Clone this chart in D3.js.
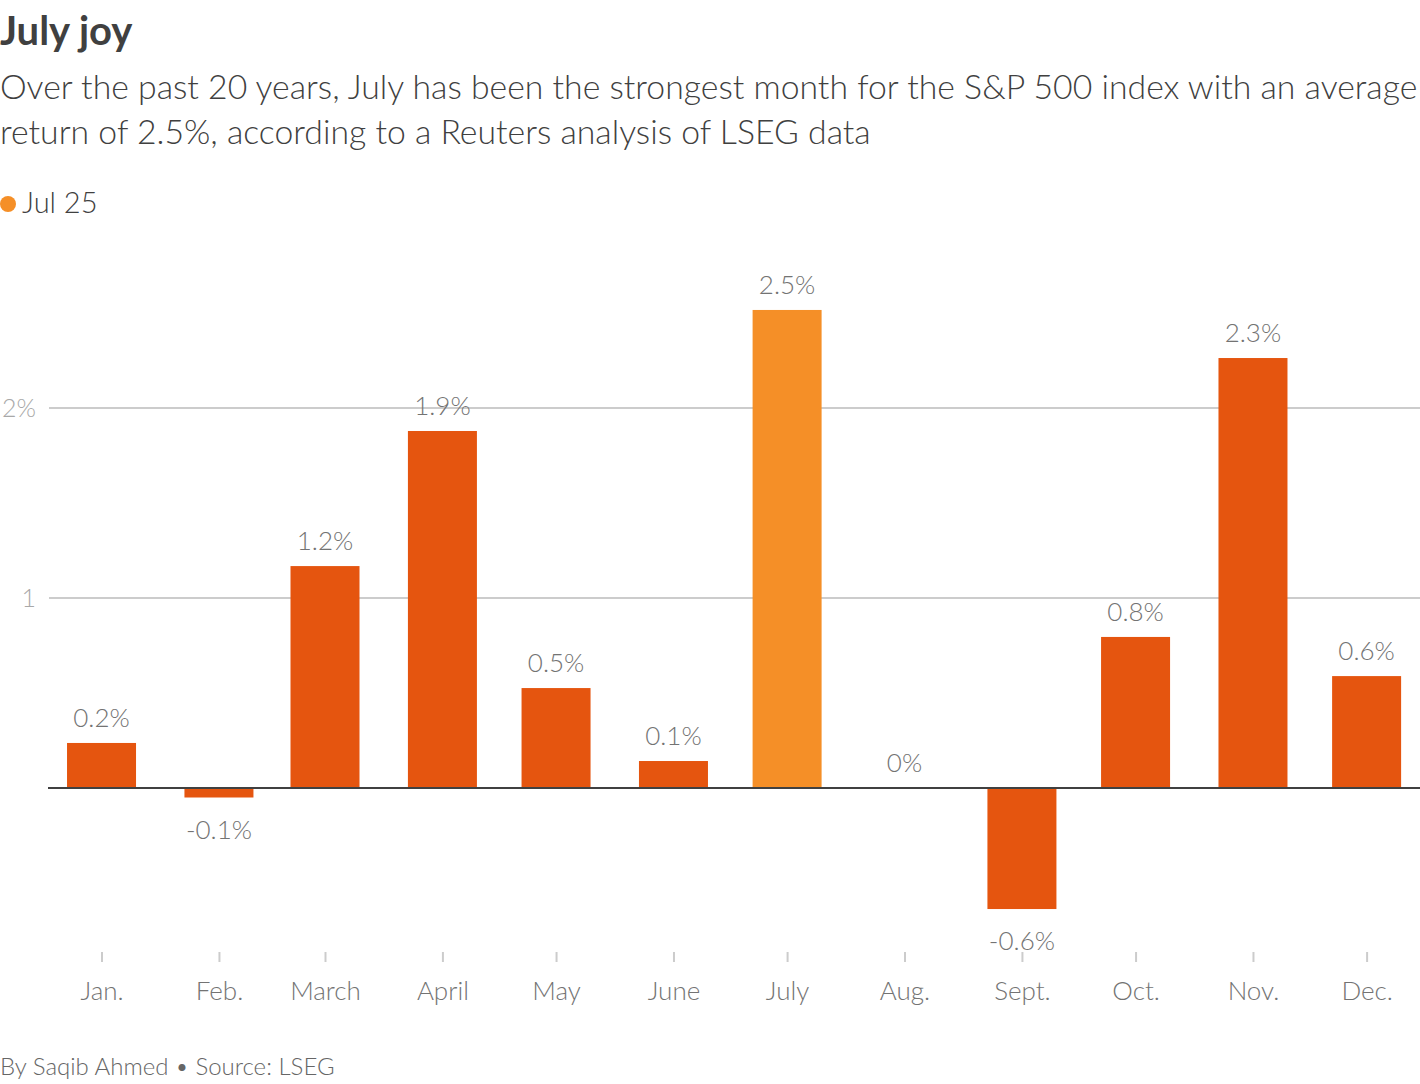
<!DOCTYPE html>
<html>
<head>
<meta charset="utf-8">
<script src="https://cdn.jsdelivr.net/npm/d3@7"></script>
<style>
  body { margin: 0; background: #fff; }
  svg { display: block; font-family: Lato, "Noto Sans", sans-serif; }
</style>
</head>
<body>
<div id="chart"></div>
<script>
var width = 1420,
    height = 1084;

// data
var months = ['Jan.', 'Feb.', 'March', 'April', 'May', 'June', 'July', 'Aug.', 'Sept.', 'Oct.', 'Nov.', 'Dec.'];
var monthDates = ['2023-01-15', '2023-02-15', '2023-03-15', '2023-04-15', '2023-05-15', '2023-06-15',
                  '2023-07-15', '2023-08-15', '2023-09-15', '2023-10-15', '2023-11-15', '2023-12-15'];
var avgReturn = [0.237, -0.05, 1.168, 1.879, 0.526, 0.142, 2.516, 0.0, -0.637, 0.795, 2.263, 0.589];
var yTicks = [1, 2];
var highlight = 'July';

var orange = '#e5550f',
    lightOrange = '#f58f27';

var svg = d3.select('#chart')
    .append('svg')
    .attr('width', width)
    .attr('height', height);

// Title
svg.append('text')
    .attr('x', 0)
    .attr('y', 45)
    .style('font-size', '40px')
    .style('font-weight', 'bold')
    .style('fill', '#404040')
    .text('July joy');

// Subtitle
var subLines = ['Over the past 20 years, July has been the strongest month for the S&P 500 index with an average',
                'return of 2.5%, according to a Reuters analysis of LSEG data'];
var sub = svg.append('g')
    .selectAll('text')
    .data(subLines)
    .enter()
    .append('text')
    .attr('x', 0)
    .attr('y', (d, i) => 99 + i * 45)
    .style('font-size', '30px')
    .style('font-weight', 300)
    .style('fill', '#404040')
    .text(d => d);

// fit the first line to the width like the original
var firstLen = sub.node().getComputedTextLength();
var subSize = 30 * 1418 / firstLen;
sub.style('font-size', subSize + 'px');

// Legend
svg.append('circle')
    .attr('cx', 8)
    .attr('cy', 204)
    .attr('r', 8)
    .style('fill', lightOrange);
svg.append('text')
    .attr('x', 22)
    .attr('y', 213)
    .style('font-size', '29px')
    .style('font-weight', 300)
    .style('fill', '#404040')
    .text('Jul 25');

// Scales
var parse = d3.timeParse('%Y-%m-%d');
var dates = monthDates.map(parse);
var xScale = d3.scaleTime()
    .domain([parse('2023-01-01'), parse('2024-01-01')])
    .range([48.5, 1431]);
var yScale = d3.scaleLinear()
    .domain([0, 2])
    .range([788, 408]);
var barWidth = 69;
var fmt = d3.format('.1~f');

// Gridlines
var grid = svg.append('g')
    .selectAll('g')
    .data(yTicks)
    .enter()
    .append('g');
grid.append('line')
    .attr('x1', 49)
    .attr('x2', width)
    .attr('y1', d => yScale(d))
    .attr('y2', d => yScale(d))
    .style('stroke', '#cccccc')
    .style('stroke-width', 2);
grid.append('text')
    .attr('x', 36)
    .attr('y', d => yScale(d))
    .attr('dy', '0.35em')
    .attr('text-anchor', 'end')
    .style('font-size', '25px')
    .style('font-weight', 300)
    .style('fill', '#a8a8a8')
    .text(d => d === 2 ? d + '%' : d);

// Bars
svg.append('g')
    .selectAll('rect')
    .data(avgReturn)
    .enter()
    .append('rect')
    .attr('x', (d, i) => xScale(dates[i]) - barWidth / 2)
    .attr('y', d => yScale(Math.max(0, d)))
    .attr('width', barWidth)
    .attr('height', d => Math.abs(yScale(d) - yScale(0)))
    .style('fill', (d, i) => months[i] === highlight ? lightOrange : orange);

// Value labels
svg.append('g')
    .selectAll('text')
    .data(avgReturn)
    .enter()
    .append('text')
    .attr('x', (d, i) => xScale(dates[i]))
    .attr('y', d => d < 0 ? yScale(d) + 41 : yScale(d) - 16)
    .attr('text-anchor', 'middle')
    .style('font-size', '26px')
    .style('font-weight', 300)
    .style('fill', '#737373')
    .text(d => fmt(d).replace('\u2212', '-') + '%');

// Zero line
svg.append('line')
    .attr('x1', 48)
    .attr('x2', width)
    .attr('y1', yScale(0))
    .attr('y2', yScale(0))
    .style('stroke', '#404040')
    .style('stroke-width', 2);

// X axis
var xAxis = d3.axisBottom(xScale)
    .tickValues(dates)
    .tickSize(10)
    .tickPadding(20)
    .tickFormat((d, i) => months[i]);
var gx = svg.append('g')
    .attr('transform', 'translate(0, 952)')
    .call(xAxis);
gx.select('.domain').remove();
gx.selectAll('.tick line')
    .style('stroke', '#cccccc')
    .style('stroke-width', 2);
gx.selectAll('.tick text')
    .style('font-family', 'Lato, "Noto Sans", sans-serif')
    .style('font-size', '26px')
    .style('font-weight', 300)
    .style('fill', '#737373');

// Source
svg.append('text')
    .attr('x', 0)
    .attr('y', 1075)
    .style('font-size', '24px')
    .style('font-weight', 300)
    .style('fill', '#666666')
    .text('By Saqib Ahmed \u2022 Source: LSEG');
</script>
</body>
</html>
